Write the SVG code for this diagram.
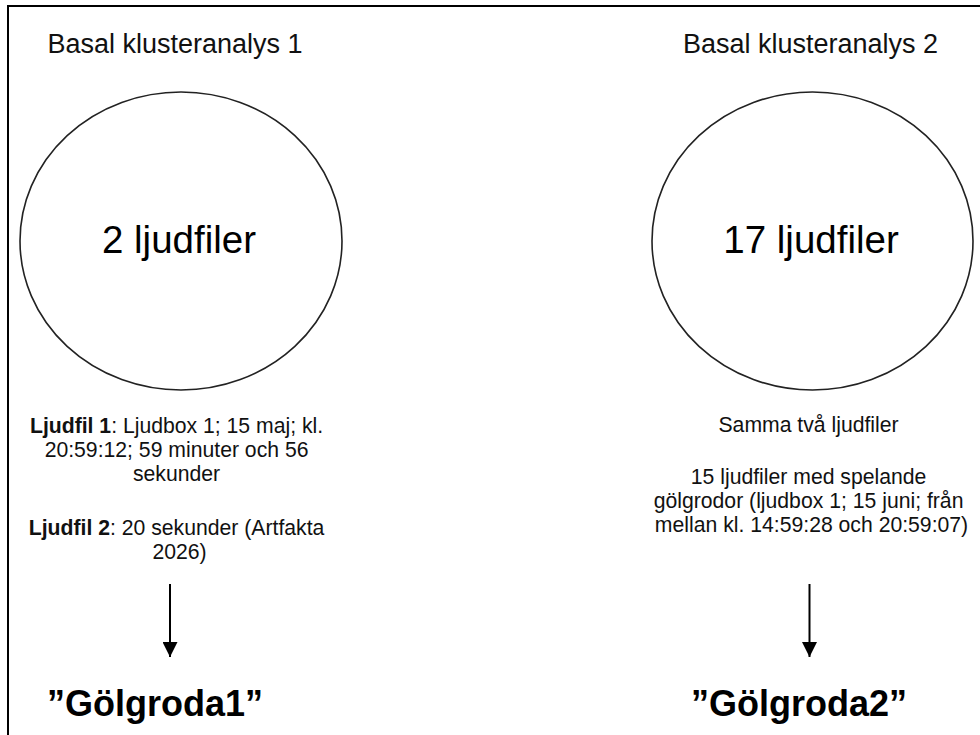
<svg xmlns="http://www.w3.org/2000/svg" width="980" height="735" viewBox="0 0 980 735">
  <defs>
    <style>
      text { font-family: "Liberation Sans", Arial, Helvetica, sans-serif; fill: #000; }
      .title { font-size: 27px; fill: #111; }
      .big { font-size: 38.5px; }
      .small { font-size: 21.2px; fill: #111; }
      .label { font-size: 36px; font-weight: bold; }
      .b { font-weight: bold; }
      .shape { fill: #fff; stroke: #222; stroke-width: 1.6; }
      .conn { stroke: #000; stroke-width: 2; fill: none; }
    </style>
    <marker id="arrow" viewBox="0 0 10 10" refX="10" refY="5" markerWidth="15" markerHeight="15" markerUnits="userSpaceOnUse" orient="auto">
      <path d="M0,0 L10,5 L0,10 z" fill="#000"/>
    </marker>
  </defs>
  <rect x="0" y="0" width="980" height="735" fill="#fff"/>
  <path d="M8,735 V6 H980" fill="none" stroke="#000" stroke-width="2"/>

  <g id="analys1">
    <text class="title" x="175" y="53" text-anchor="middle">Basal klusteranalys 1</text>
    <ellipse class="shape" cx="181" cy="241" rx="161" ry="149"/>
    <text class="big" x="179" y="253" text-anchor="middle">2 ljudfiler</text>
    <text class="small" text-anchor="middle">
      <tspan x="179.5" y="433"><tspan class="b">Ljudfil 1</tspan>: Ljudbox 1; 15 maj; kl.</tspan>
      <tspan x="179.5" y="457">20:59:12; 59 minuter och 56</tspan>
      <tspan x="179.5" y="481">sekunder</tspan>
      <tspan x="179.5" y="535"><tspan class="b">Ljudfil 2</tspan>: 20 sekunder (Artfakta</tspan>
      <tspan x="179.5" y="559">2026)</tspan>
    </text>
  </g>

  <g id="analys2">
    <text class="title" x="810.5" y="53" text-anchor="middle">Basal klusteranalys 2</text>
    <ellipse class="shape" cx="812.5" cy="241" rx="160.5" ry="149"/>
    <text class="big" x="811" y="253" text-anchor="middle">17 ljudfiler</text>
    <text class="small" text-anchor="middle">
      <tspan x="811.5" y="432">Samma två ljudfiler</tspan>
      <tspan x="811.5" y="484">15 ljudfiler med spelande</tspan>
      <tspan x="811.5" y="508">gölgrodor (ljudbox 1; 15 juni; från</tspan>
      <tspan x="811.5" y="532">mellan kl. 14:59:28 och 20:59:07)</tspan>
    </text>
  </g>

  <g id="golgroda1">
    <text class="label" x="47" y="716">”Gölgroda1”</text>
  </g>
  <g id="golgroda2">
    <text class="label" x="691" y="716">”Gölgroda2”</text>
  </g>

  <g id="connectors">
    <line class="conn" x1="170" y1="584" x2="170" y2="657" marker-end="url(#arrow)"/>
    <line class="conn" x1="809.5" y1="584" x2="809.5" y2="657" marker-end="url(#arrow)"/>
  </g>
</svg>
